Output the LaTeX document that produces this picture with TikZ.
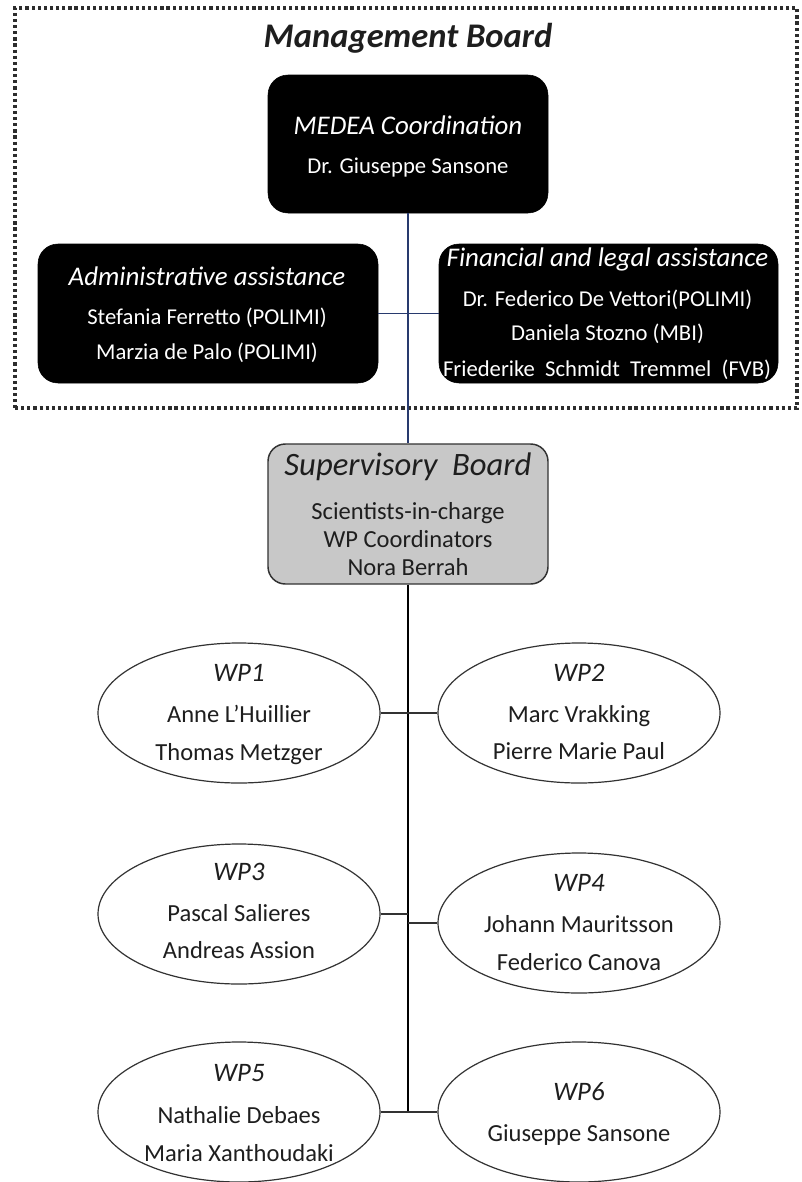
\documentclass[tikz,border=0pt]{standalone}
\usepackage{fontspec}
\setmainfont{Carlito}
\usetikzlibrary{shapes.geometric}
\definecolor{linkblue}{RGB}{40,58,110}
\definecolor{txtgray}{RGB}{30,30,30}
\definecolor{supfill}{RGB}{200,200,200}
\definecolor{framegray}{RGB}{45,45,45}
\definecolor{edgegray}{RGB}{50,50,50}
\begin{document}
\begin{tikzpicture}[x=0.75pt,y=-0.75pt,
  ft/.style={inner sep=0pt, text depth=0pt},
  maintitle/.style={ft, text height=17.1pt, text=txtgray, font=\fontsize{25.9}{30}\selectfont\bfseries\itshape},
  wtitle/.style={ft, text height=13.3pt, text=white, font=\fontsize{20.2}{24}\selectfont\itshape},
  wbody/.style={ft, text height=11.2pt, text=white, font=\fontsize{17}{20}\selectfont},
  suptitle/.style={ft, text height=16.2pt, text=txtgray, font=\fontsize{24.5}{29}\selectfont\itshape},
  gbody/.style={ft, text height=12.1pt, text=txtgray, font=\fontsize{18.4}{22}\selectfont},
  wptitle/.style={ft, text height=13.2pt, text=txtgray, font=\fontsize{20}{24}\selectfont\itshape},
  blackbox/.style={rectangle, rounded corners=15pt, fill=black, draw=black, inner sep=0pt},
  supbox/.style={rectangle, rounded corners=13pt, fill=supfill, draw=edgegray, line width=1.1pt, inner sep=0pt},
  wpell/.style={ellipse, draw=edgegray, line width=0.9pt, fill=white, inner sep=0pt,
                minimum width=211.5pt, minimum height=105pt},
  framebox/.style={rectangle, draw=framegray, line width=2.5pt, dash pattern=on 2.4pt off 2.2pt, inner sep=0pt},
  bluelink/.style={draw=linkblue, line width=1.1pt},
  blacklink/.style={draw=black, line width=1.5pt},
  wplink/.style={draw=edgegray, line width=1.2pt}
]
\useasboundingbox (0,0) rectangle (802,1182);
\fill[white] (0,0) rectangle (802,1182);

% Management board frame
\node[framebox, minimum width=586.5pt, minimum height=300pt] (mgmt) at (406,208) {};
\node[maintitle] (mgmttitle) at (408,36) {Management Board};

% boxes
\node[blackbox, minimum width=210pt, minimum height=103.5pt] (medea) at (408,144) {};
\node[blackbox, minimum width=255pt, minimum height=104.25pt] (admin) at (208,313.5) {};
\node[blackbox, minimum width=254.25pt, minimum height=104.25pt] (fin) at (608.5,313.5) {};
\node[supbox, minimum width=210pt, minimum height=105pt] (sup) at (408,514) {};

% connectors in management board
\draw[bluelink] (medea.south) -- (sup.north);
\draw[bluelink] (admin.east) -- (fin.west);

% ellipses
\node[wpell] (wp1) at (239,713) {};
\node[wpell] (wp2) at (579,713) {};
\node[wpell] (wp3) at (239,914) {};
\node[wpell] (wp4) at (579,923) {};
\node[wpell] (wp5) at (239,1112) {};
\node[wpell] (wp6) at (579,1112) {};

\coordinate (tr3) at (408,914);
\coordinate (tr4) at (408,923);
\coordinate (trend) at (408,1112);
\draw[blacklink] (sup.south) -- (trend);
\draw[wplink] (wp1.east) -- (wp2.west);
\draw[wplink] (wp3.east) -- (tr3);
\draw[wplink] (tr4) -- (wp4.west);
\draw[wplink] (wp5.east) -- (wp6.west);

% texts: MEDEA
\node[wtitle] (medea-t) at (408,126) {MEDEA Coordination};
\node[wbody] (medea-1) at (408,166) {Dr. Giuseppe Sansone};
% admin
\node[wtitle] (admin-t) at (207,277) {Administrative assistance};
\node[wbody] (admin-1) at (207,317) {Stefania Ferretto (POLIMI)};
\node[wbody] (admin-2) at (207,352) {Marzia de Palo (POLIMI)};
% financial
\node[wtitle] (fin-t) at (607.5,258) {Financial and legal assistance};
\node[wbody] (fin-1) at (607.5,299) {Dr. Federico De Vettori(POLIMI)};
\node[wbody] (fin-2) at (607.5,333) {Daniela Stozno (MBI)};
\node[wbody] (fin-3) at (607,369) {Friederike\ \ Schmidt\ \ Tremmel\ \ (FVB)};
% supervisory
\node[suptitle] (sup-t) at (408,465) {Supervisory\ \ Board};
\node[gbody] (sup-1) at (408,511) {Scientists-in-charge};
\node[gbody] (sup-2) at (408,539) {WP Coordinators};
\node[gbody] (sup-3) at (408,567) {Nora Berrah};
% WPs
\node[wptitle] (wp1-t) at (239,673) {WP1};
\node[gbody] (wp1-1) at (239,714) {Anne L’Huillier};
\node[gbody] (wp1-2) at (239,752) {Thomas Metzger};
\node[wptitle] (wp2-t) at (579,673) {WP2};
\node[gbody] (wp2-1) at (579,714) {Marc Vrakking};
\node[gbody] (wp2-2) at (579,751) {Pierre Marie Paul};
\node[wptitle] (wp3-t) at (239,872) {WP3};
\node[gbody] (wp3-1) at (239,913) {Pascal Salieres};
\node[gbody] (wp3-2) at (239,950) {Andreas Assion};
\node[wptitle] (wp4-t) at (579,883) {WP4};
\node[gbody] (wp4-1) at (579,924) {Johann Mauritsson};
\node[gbody] (wp4-2) at (579,962) {Federico Canova};
\node[wptitle] (wp5-t) at (239,1073) {WP5};
\node[gbody] (wp5-1) at (239,1115) {Nathalie Debaes};
\node[gbody] (wp5-2) at (239,1153) {Maria Xanthoudaki};
\node[wptitle] (wp6-t) at (579,1092) {WP6};
\node[gbody] (wp6-1) at (579,1133) {Giuseppe Sansone};
\end{tikzpicture}
\end{document}
